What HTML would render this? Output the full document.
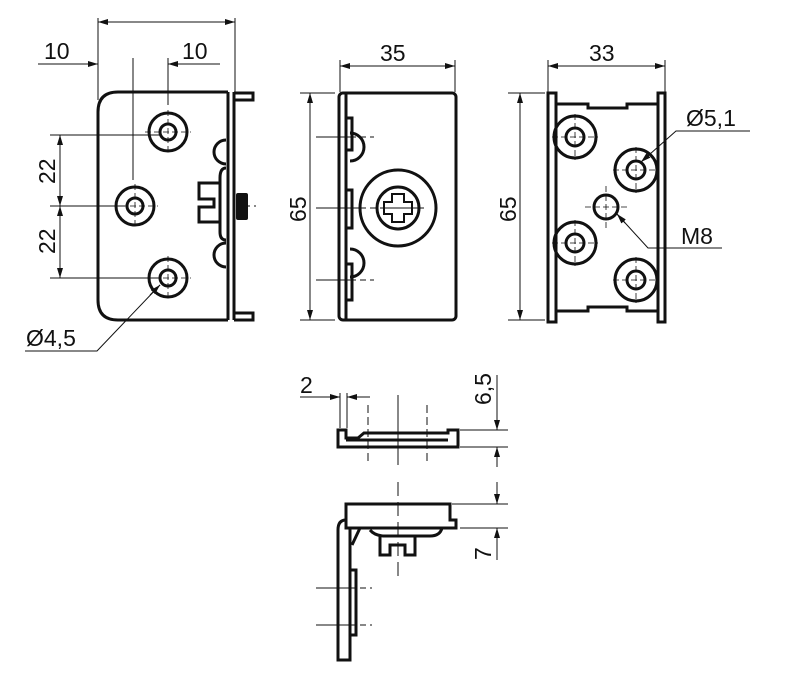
<!DOCTYPE html>
<html><head><meta charset="utf-8"><style>
html,body{margin:0;padding:0;background:#fff}
svg{display:block}
text{font-family:"Liberation Sans",sans-serif;font-size:23px;fill:#111}
</style></head><body>
<svg width="796" height="688" viewBox="0 0 796 688" xmlns="http://www.w3.org/2000/svg">
<defs>
<marker id="a" viewBox="0 0 10 6" refX="10" refY="3" markerWidth="10" markerHeight="6" orient="auto-start-reverse" markerUnits="userSpaceOnUse"><path d="M0,0L10,3L0,6z" fill="#111"/></marker>
</defs>
<g fill="none" stroke="#111" stroke-width="1">
<line x1="98" y1="18" x2="98" y2="100"/><line x1="235" y1="18" x2="235" y2="92"/>
<line x1="98" y1="22" x2="235" y2="22" marker-start="url(#a)" marker-end="url(#a)"/>
<line x1="38" y1="64" x2="98" y2="64" marker-end="url(#a)"/>
<line x1="220" y1="64" x2="168" y2="64" marker-end="url(#a)"/>
<line x1="133" y1="58" x2="133" y2="180"/><line x1="168" y1="58" x2="168" y2="105"/>
<line x1="50" y1="135" x2="160" y2="135"/><line x1="50" y1="206" x2="125" y2="206"/><line x1="50" y1="278" x2="160" y2="278"/>
<line x1="60" y1="135" x2="60" y2="206" marker-start="url(#a)" marker-end="url(#a)"/>
<line x1="60" y1="206" x2="60" y2="278" marker-start="url(#a)" marker-end="url(#a)"/>
<polyline points="25,351 97,351 160,285"/>
<line x1="150" y1="295" x2="160" y2="285" marker-end="url(#a)"/>
<line x1="242" y1="206" x2="256" y2="206" stroke-dasharray="8,4"/>
<line x1="340" y1="60" x2="340" y2="92"/><line x1="455" y1="60" x2="455" y2="92"/>
<line x1="340" y1="66" x2="455" y2="66" marker-start="url(#a)" marker-end="url(#a)"/>
<line x1="300" y1="93" x2="335" y2="93"/><line x1="300" y1="320" x2="335" y2="320"/>
<line x1="310" y1="93" x2="310" y2="320" marker-start="url(#a)" marker-end="url(#a)"/>
<line x1="316" y1="137" x2="374" y2="137" stroke-dasharray="40,4,6,4"/>
<line x1="316" y1="208" x2="424" y2="208" stroke-dasharray="50,4,6,4"/>
<line x1="316" y1="280" x2="374" y2="280" stroke-dasharray="40,4,6,4"/>
<line x1="548" y1="60" x2="548" y2="92"/><line x1="665" y1="60" x2="665" y2="92"/>
<line x1="548" y1="66" x2="665" y2="66" marker-start="url(#a)" marker-end="url(#a)"/>
<line x1="508" y1="93" x2="545" y2="93"/><line x1="508" y1="320" x2="545" y2="320"/>
<line x1="520" y1="93" x2="520" y2="320" marker-start="url(#a)" marker-end="url(#a)"/>
<polyline points="750,131 676,131 641,162" /><line x1="650" y1="154" x2="641" y2="162" marker-end="url(#a)"/>
<polyline points="722,248 648,248 617,214"/><line x1="625" y1="223" x2="617" y2="214" marker-end="url(#a)"/>
<line x1="340" y1="393" x2="340" y2="428"/><line x1="347" y1="393" x2="347" y2="428"/>
<line x1="300" y1="397" x2="340" y2="397" marker-end="url(#a)"/>
<line x1="370" y1="397" x2="347" y2="397" marker-end="url(#a)"/>
<line x1="460" y1="430" x2="508" y2="430"/><line x1="460" y1="447" x2="508" y2="447"/>
<line x1="497" y1="375" x2="497" y2="430" marker-end="url(#a)"/>
<line x1="497" y1="467" x2="497" y2="447" marker-end="url(#a)"/>
<line x1="452" y1="504" x2="508" y2="504"/><line x1="460" y1="528" x2="508" y2="528"/>
<line x1="497" y1="482" x2="497" y2="504" marker-end="url(#a)"/>
<line x1="497" y1="560" x2="497" y2="528" marker-end="url(#a)"/>
<line x1="398" y1="395" x2="398" y2="465"/>
<line x1="368" y1="405" x2="368" y2="465" stroke-dasharray="8,4"/>
<line x1="427" y1="405" x2="427" y2="465" stroke-dasharray="8,4"/>
<line x1="398" y1="482" x2="398" y2="580" stroke-dasharray="14,6"/>
<line x1="316" y1="588" x2="372" y2="588" stroke-dasharray="40,4,6,4"/>
<line x1="316" y1="625" x2="372" y2="625" stroke-dasharray="40,4,6,4"/>
</g>
<g fill="none" stroke="#111" stroke-width="3">
<path d="M228,92 H118 Q98,92 98,112 V300 Q98,320 118,320 H228"/>
<line x1="228" y1="92" x2="228" y2="320"/><line x1="234" y1="92" x2="234" y2="320"/>
<path d="M234,93 H253 V100 H234 M234,313 H253 V320 H234"/>
<path d="M226,140 A12,12 0 0 0 226,164 M226,243 A12,12 0 0 0 226,267 M226,168 Q220,168 220,178 V232 Q220,240 226,240"/>
<path d="M220,183 H199 V199 H214 V207 H199 V222 H220"/>
<circle cx="168" cy="132" r="19"/><circle cx="168" cy="132" r="8"/>
<circle cx="135" cy="206" r="19"/><circle cx="135" cy="206" r="8"/>
<circle cx="168" cy="278" r="19"/><circle cx="168" cy="278" r="8"/>
<rect x="339" y="93" width="117" height="227" rx="4"/>
<line x1="346" y1="93" x2="346" y2="320"/>
<path d="M350,133 A14,14 0 0 1 350,161 M350,249 A14,14 0 0 1 350,277"/>
<path d="M346,118 H352 V150 H346 M346,190 H352 V228 H346 M346,264 H352 V300 H346"/>
<circle cx="398" cy="208" r="38"/><circle cx="398" cy="208" r="21"/>
<path d="M392,194 H404 V202 H412 V214 H404 V222 H392 V214 H384 V202 H392 Z" stroke-width="2"/>
<path d="M548,322 V93 H556 V104 H588 V108 H627 V104 H658 V93 H665 V322 H658 V311 H627 V307 H588 V311 H556 V322 Z"/>
<line x1="556" y1="104" x2="556" y2="311"/><line x1="658" y1="104" x2="658" y2="311"/>
<circle cx="575" cy="137" r="21"/><circle cx="575" cy="137" r="9"/>
<circle cx="636" cy="170" r="21"/><circle cx="636" cy="170" r="9"/>
<circle cx="575" cy="243" r="21"/><circle cx="575" cy="243" r="9"/>
<circle cx="636" cy="280" r="21"/><circle cx="636" cy="280" r="9"/>
<circle cx="606" cy="207" r="12"/>
<path d="M338,447 V430 H346 V438 H358 L364,433 H448 V430 H458 V447 Z"/>
<line x1="346" y1="440" x2="448" y2="440"/>
<path d="M346,528 V504 H450 V520 H456 V528 Z"/>
<path d="M350,528 V660 H338 V530 Q338,520 346,520"/>
<path d="M360,528 L352,545 M370,530 Q375,536 385,536 H430 Q440,536 442,528"/>
<path d="M380,536 V555 H390 V545 H405 V555 H415 V536"/>
<path d="M350,570 H356 V635 H350"/>
</g>
<g fill="#111">
<rect x="236" y="193" width="12" height="27" rx="2"/>
</g>
<g fill="none" stroke="#111" stroke-width="0.8" stroke-dasharray="6,3">
<line x1="145" y1="132" x2="191" y2="132"/><line x1="168" y1="110" x2="168" y2="154"/>
<line x1="112" y1="206" x2="158" y2="206"/><line x1="135" y1="184" x2="135" y2="228"/>
<line x1="145" y1="278" x2="191" y2="278"/><line x1="168" y1="256" x2="168" y2="300"/>
<line x1="552" y1="137" x2="598" y2="137"/><line x1="575" y1="114" x2="575" y2="160"/>
<line x1="613" y1="170" x2="659" y2="170"/><line x1="636" y1="147" x2="636" y2="193"/>
<line x1="552" y1="243" x2="598" y2="243"/><line x1="575" y1="220" x2="575" y2="266"/>
<line x1="613" y1="280" x2="659" y2="280"/><line x1="636" y1="257" x2="636" y2="303"/>
<line x1="585" y1="207" x2="627" y2="207"/><line x1="606" y1="186" x2="606" y2="228"/>
</g>
<text x="44" y="59">10</text><text x="182" y="59">10</text>
<text x="380" y="61">35</text><text x="589" y="61">33</text>
<text transform="translate(55,184) rotate(-90)">22</text>
<text transform="translate(55,254) rotate(-90)">22</text>
<text transform="translate(306,222) rotate(-90)">65</text>
<text transform="translate(516,222) rotate(-90)">65</text>
<text x="26" y="346">Ø4,5</text>
<text x="686" y="126">Ø5,1</text>
<text x="681" y="244">M8</text>
<text x="300" y="393">2</text>
<text transform="translate(491,405) rotate(-90)">6,5</text>
<text transform="translate(491,560) rotate(-90)">7</text>
</svg>
</body></html>
